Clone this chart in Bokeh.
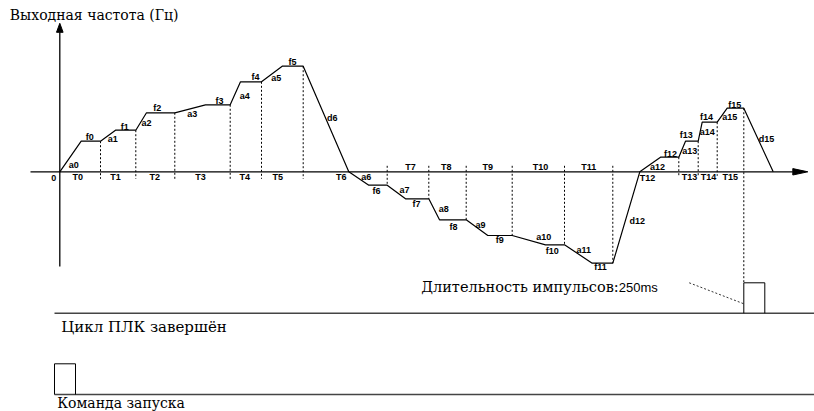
from bokeh.plotting import figure
from bokeh.models import Range1d
from bokeh.core.properties import value
from bokeh.embed import file_html
from bokeh.resources import INLINE

# ---------------- data (time units along the axis, frequency units up) ----------
# end time of each constant-speed segment T0..T15
seg_end = [40.7, 76, 115, 170.4, 201.7, 243.4, 327.4, 369, 406.4, 452.4,
           504.7, 553, 619, 638.4, 657.4, 684]
# time at which the ramp a0..a15 reaches its level
ramp_end = [21.4, 55.7, 86.7, 145.7, 180.7, 222.4, 309, 345.7, 379.7, 428,
            485.7, 532.4, 600.7, 625.7, 642.4, 667.4]
# frequency levels f0..f15
freq = [30.6, 41.6, 59, 67, 90, 105.6, -13.4, -27, -48, -63.7,
        -73, -91.4, 14.6, 30.6, 49.6, 63.6]
# zero crossings of the decelerations d6 and d12, end of d15
zero_cross = {6: 289, 12: 580}
stop_t = 713.4

# signals below the chart
plc_low, plc_high = -141.4, -111.0
plc_pulse = [684, 705]
start_low, start_high = -222.7, -192.0
start_pulse = [-5.3, 15.7]
signal_span = [-5.3, 754.7]

# ---------------- layout (label placement) ----------------
label_pos = {
    "0": (-6, -6.4),
    "a0": (14, 7.3), "f0": (30, 35.3), "a1": (53, 33), "f1": (65, 45.3),
    "a2": (86.7, 48.6), "f2": (97.4, 64), "a3": (132.4, 58), "f3": (159.7, 71.3),
    "a4": (185, 76.3), "f4": (195.7, 95.3), "a5": (216.4, 94), "f5": (232.7, 110.3),
    "d6": (272.4, 54), "a6": (306.4, -5.4), "f6": (316.7, -18.7),
    "a7": (344.7, -17.7), "f7": (356.7, -31.7), "a8": (384, -37), "f8": (393.7, -54.7),
    "a9": (420.7, -52.7), "f9": (440, -68), "a10": (484, -65.4), "f10": (492.4, -78.7),
    "a11": (524, -78), "f11": (540.7, -94.7), "d12": (577.4, -49.4),
    "a12": (597.7, 5.3), "f12": (610.7, 18), "a13": (630, 21.3), "f13": (626.4, 37.3),
    "a14": (647.4, 39.6), "f14": (646.7, 55.3), "a15": (670, 55.3), "f15": (675, 67.3),
    "d15": (706.7, 33),
    "T0": (18, -5.4), "T1": (55.7, -5.4), "T2": (95, -5.4), "T3": (140.7, -5.4),
    "T4": (185, -5.4), "T5": (218, -5.4), "T6": (281.4, -5.4),
    "T7": (350.7, 4.6), "T8": (386.4, 4.6), "T9": (428, 4.6), "T10": (480.7, 4.6),
    "T11": (529, 4.6), "T12": (587.7, -5.7), "T13": (629.7, -5.2),
    "T14": (648.7, -5.2), "T15": (670.4, -5.2),
}

SANS = value("Liberation Sans")
SERIF = value("DejaVu Serif")

W, H = 814, 411
OX, OY = 0, 0          # where the figure's top-left lands in the picture
X0, Y0 = 59.3, 171.3   # picture position of the origin
p = figure(width=W, height=H, output_backend="svg", toolbar_location=None,
           x_range=Range1d(OX - X0, OX - X0 + W), y_range=Range1d(Y0 - OY - H, Y0 - OY),
           x_axis_type=None, y_axis_type=None, min_border=0)
p.outline_line_color = None
p.grid.visible = False
p.background_fill_color = "white"
p.border_fill_color = "white"

# ---- axes
p.line([-29.3, 733], [0, 0], line_color="black", line_width=1.3)
p.patch([733, 748, 733], [3.2, 0, -3.2], fill_color="black", line_color="black")
p.line([0, 0], [-94.7, 139.5], line_color="black", line_width=1.3)
p.patch([-3.3, 0, 3.3], [139.5, 148.5, 139.5], fill_color="black", line_color="black")

# ---- frequency profile
px, py = [0.0], [0.0]
for i in range(16):
    if i in zero_cross:
        px.append(zero_cross[i]); py.append(0.0)
    px.append(ramp_end[i]); py.append(freq[i])
    px.append(seg_end[i]); py.append(freq[i])
px.append(stop_t); py.append(0.0)
p.line(px, py, line_color="black", line_width=1.2)

# ---- dashed segment boundaries
xs, ys = [], []
for i in range(15):
    t, f = seg_end[i], freq[i]
    if f > 0:
        ys.append([f, -7 if i <= 5 else -4])
    else:
        ys.append([6, f])
    xs.append([t, t])
xs.append([seg_end[15], seg_end[15]])
ys.append([freq[15], plc_high])
p.multi_line(xs, ys, line_color="black", line_width=1, line_dash="2 2")

# ---- labels
names = list(label_pos.keys())
p.text(x=[label_pos[n][0] for n in names], y=[label_pos[n][1] for n in names],
       text=names, text_font=SANS, text_font_style="bold",
       text_font_size="9px", text_align="center", text_baseline="middle",
       text_color="black")

# ---- title of the y axis
p.text(x=[-50], y=[157.3], text=["Выходная частота (Гц)"],
       text_font=SERIF, text_font_size="14px",
       text_align="left", text_baseline="middle", text_color="black")

# ---- PLC cycle finished signal
p.line(signal_span, [plc_low, plc_low], line_color="#444444", line_width=1.4)
p.line([plc_pulse[0], plc_pulse[0], plc_pulse[1], plc_pulse[1]],
       [plc_low, plc_high, plc_high, plc_low], line_color="black", line_width=1)
p.line([629.4, plc_pulse[0]], [plc_high, -132], line_color="black",
       line_width=0.8, line_dash="2 2")
p.text(x=[361.4], y=[-115.4], text=["Длительность импульсов:"],
       text_font=SERIF, text_font_size="14.5px",
       text_align="left", text_baseline="middle", text_color="black")
p.text(x=[598], y=[-115.4], text=["250ms"],
       text_font=SANS, text_font_size="13px",
       text_align="right", text_baseline="middle", text_color="black")
p.text(x=[1.4], y=[-154.7], text=["Цикл ПЛК завершён"],
       text_font=SERIF, text_font_size="15px",
       text_align="left", text_baseline="middle", text_color="black")

# ---- start command signal
p.line(signal_span, [start_low, start_low], line_color="#444444", line_width=1.4)
p.line([start_pulse[0], start_pulse[0], start_pulse[1], start_pulse[1]],
       [start_low, start_high, start_high, start_low], line_color="black", line_width=1)
p.text(x=[-2.6], y=[-231.5], text=["Команда запуска"],
       text_font=SERIF, text_font_size="14px",
       text_align="left", text_baseline="middle", text_color="black")

open("out.html", "w").write(file_html(p, INLINE))
